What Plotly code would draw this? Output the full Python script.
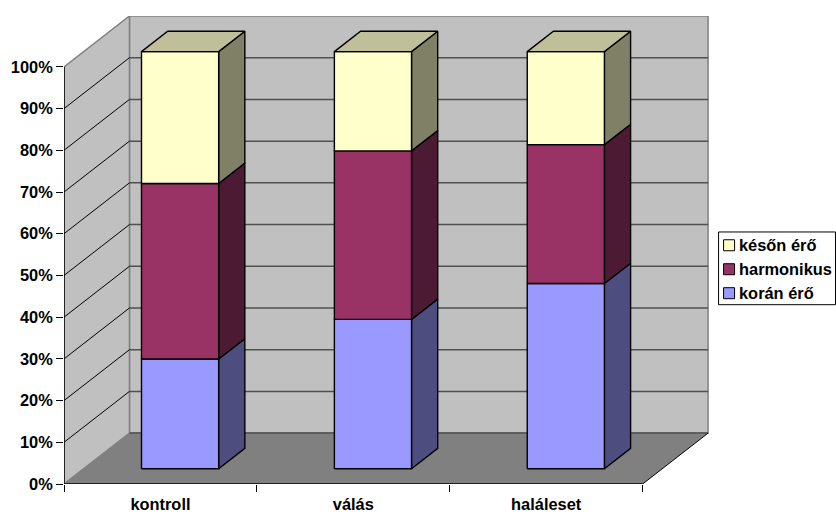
import numpy as np
import plotly.graph_objects as go

categories = ["kontroll", "válás", "haláleset"]
series_names = ["korán érő", "harmonikus", "későn érő"]
koran = [26.3, 35.8, 44.4]
harmonikus = [42.1, 40.4, 33.3]
keson = [31.6, 23.8, 22.3]
y_ticks = [0, 10, 20, 30, 40, 50, 60, 70, 80, 90, 100]
y_labels = ["0%", "10%", "20%", "30%", "40%", "50%", "60%", "70%", "80%", "90%", "100%"]

front_colors = ["#9999FF", "#993366", "#FFFFCC"]
side_colors = ["#4D4D80", "#4D1A33", "#808066"]
top_color = "#BFBF99"
FONT = "Liberation Sans"
FS = 16.4

# geometry of the oblique projection
W, H = 836, 514
L, R, T, B = 63.5, 0.0, 15.5, 30.0
CAT_PX = 193.0
DX = 0.3394    # x-axis units per unit of depth
DY = 12.2      # y-axis units per unit of depth
NCAT = len(categories)
px_w = W - L - R
px_h = H - T - B
X_MAX = px_w / CAT_PX
Y_MAX = 100 + DY


def proj(x, y, z):
    return x + z * DX, y + z * DY


def poly(points, fill=None, line=None, width=1.0):
    xs, ys = zip(*[proj(*p) for p in points])
    closed = fill is not None
    if closed:
        xs = xs + (xs[0],)
        ys = ys + (ys[0],)
    return go.Scatter(
        x=xs, y=ys, mode="lines", fill="toself" if closed else None,
        fillcolor=fill,
        line=dict(color=line or "rgba(0,0,0,0)", width=width),
        hoverinfo="skip", showlegend=False, cliponaxis=False,
    )


fig = go.Figure()
# walls and floor
fig.add_trace(poly([(0, 0, 1), (NCAT, 0, 1), (NCAT, 100, 1), (0, 100, 1)], "#C0C0C0", "#808080", 1.5))
fig.add_trace(poly([(0, 0, 0), (0, 0, 1), (0, 100, 1), (0, 100, 0)], "#C0C0C0", "#808080", 1.5))
fig.add_trace(poly([(0, 0, 0), (NCAT, 0, 0), (NCAT, 0, 1), (0, 0, 1)], "#808080"))
# gridlines
for v in y_ticks[1:-1]:
    fig.add_trace(poly([(0, v, 1), (NCAT, v, 1)], line="#505050", width=1.5))
    fig.add_trace(poly([(0, v, 0), (0, v, 1)], line="#000000", width=1))
# floor edges and axis lines
fig.add_trace(poly([(0, 0, 1), (NCAT, 0, 1)], line="#505050", width=1.5))
fig.add_trace(poly([(NCAT, 0, 0), (NCAT, 0, 1)], line="#000000", width=1))
fig.add_trace(poly([(0, 0, 0), (NCAT, 0, 0)], line="#000000", width=1.5))
fig.add_trace(poly([(0, 0, 0), (0, 100, 0)], line="#000000", width=1.5))

# stacked bars
stack = np.cumsum(np.array([koran, harmonikus, keson]), axis=0)
Z0, Z1, BW = 0.3, 0.7, 0.4
for i in range(NCAT):
    x0, x1 = i + 0.5 - BW / 2, i + 0.5 + BW / 2
    for s in range(len(series_names)):
        lo = 0 if s == 0 else stack[s - 1, i]
        hi = stack[s, i]
        fig.add_trace(poly([(x1, lo, Z0), (x1, lo, Z1), (x1, hi, Z1), (x1, hi, Z0)], side_colors[s], "#000000", 1.4))
        fig.add_trace(poly([(x0, lo, Z0), (x1, lo, Z0), (x1, hi, Z0), (x0, hi, Z0)], front_colors[s], "#000000", 1.4))
    hi = stack[-1, i]
    fig.add_trace(poly([(x0, hi, Z0), (x1, hi, Z0), (x1, hi, Z1), (x0, hi, Z1)], top_color, "#000000", 1.4))


def paper_x(px):
    return (px - L) / px_w


def paper_y(py):
    return (H - B - py) / px_h


# legend, in reference order (last series on top)
legend_rows = [245, 269, 293]
for s, py in zip(reversed(range(len(series_names))), legend_rows):
    fig.add_trace(go.Scatter(
        x=[paper_x(729) * X_MAX], y=[paper_y(py) * Y_MAX],
        mode="markers", cliponaxis=False, hoverinfo="skip", showlegend=False,
        marker=dict(symbol="square", size=11, color=front_colors[s], line=dict(color="#000000", width=1)),
    ))
    fig.add_annotation(
        xref="paper", yref="paper", x=paper_x(738), y=paper_y(py), text=f"<b>{series_names[s]}</b>",
        showarrow=False, xanchor="left", yanchor="middle", xshift=-1,
        font=dict(family=FONT, size=FS, color="#000000"),
    )

fig.update_layout(
    width=W, height=H, margin=dict(l=L, r=R, t=T, b=B, autoexpand=False),
    paper_bgcolor="#FFFFFF", plot_bgcolor="rgba(0,0,0,0)", showlegend=False,
    font=dict(family=FONT, size=FS, color="#000000"),
    shapes=[dict(type="rect", xref="paper", yref="paper", layer="below",
                 x0=paper_x(718.5), x1=paper_x(835.5), y0=paper_y(304.5), y1=paper_y(231.7),
                 line=dict(color="#000000", width=1), fillcolor="#FFFFFF")],
    xaxis=dict(
        range=[0, X_MAX], showgrid=False, zeroline=False, showline=False,
        tickmode="array", tickvals=[i + 0.5 for i in range(NCAT)],
        ticktext=[f"<b>{c}</b>" for c in categories], ticks="", ticklabelstandoff=9,
        minor=dict(tickmode="array", tickvals=list(range(NCAT + 1)), ticks="outside",
                   ticklen=7, tickwidth=1, tickcolor="#000000", showgrid=False),
        tickfont=dict(family=FONT, size=FS, color="#000000"),
    ),
    yaxis=dict(
        range=[0, Y_MAX], showgrid=False, zeroline=False, showline=False,
        tickmode="array", tickvals=y_ticks, ticktext=[f"<b>{t}</b>" for t in y_labels],
        ticks="outside", ticklen=7, tickwidth=1, tickcolor="#000000",
        tickfont=dict(family=FONT, size=FS, color="#000000"),
    ),
)
fig.write_html("out.html", config={"displayModeBar": False},
               post_script="document.body.style.margin='0';")
